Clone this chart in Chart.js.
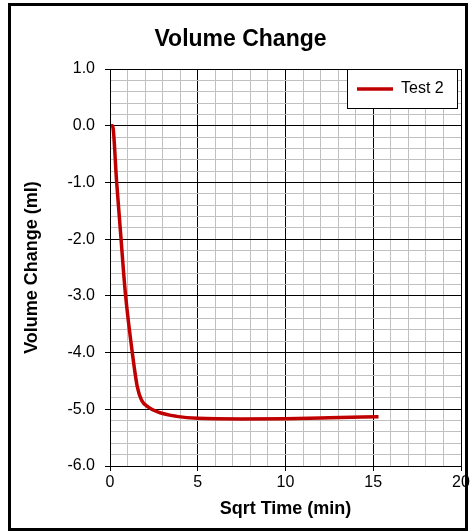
<!DOCTYPE html>
<html>
<head>
<meta charset="utf-8">
<script src="https://cdn.jsdelivr.net/npm/chart.js@4/dist/chart.umd.min.js"></script>
<style>
  html, body { margin: 0; padding: 0; background: #fff; }
  #wrap { width: 472px; height: 531px; }
  canvas { display: block; }
</style>
</head>
<body>
<div id="wrap"><canvas id="c" width="472" height="531"></canvas></div>
<script>
// ---- data ----
const chartTitle = 'Volume Change';
const xAxisTitle = 'Sqrt Time (min)';
const yAxisTitle = 'Volume Change (ml)';
const seriesName = 'Test 2';
const sqrtTime     = [0.06, 0.14, 0.38, 0.63, 0.76, 0.89, 1.27, 1.56, 1.80, 2.18, 2.75, 3.80, 5.00, 7.50, 10.00, 12.50, 15.30];
const volumeChange = [0.00, 0.00, -1.00, -2.00, -2.53, -3.00, -4.00, -4.61, -4.84, -4.96, -5.05, -5.125, -5.16, -5.17, -5.165, -5.15, -5.13];
const xMin = 0, xMax = 20, xStep = 1, xMajor = 5;
const yMin = -6, yMax = 1, yStep = 0.2;

const points = sqrtTime.map((x, i) => ({ x: x, y: volumeChange[i] }));

Chart.defaults.font.family = "'Liberation Sans', Arial, sans-serif";
Chart.defaults.color = '#000';

const isInt = v => Math.abs(v - Math.round(v)) < 1e-6;
const isMajorX = v => isInt(v / xMajor);

const framePlugin = {
  id: 'frame',
  beforeDraw(chart) {
    const ctx = chart.ctx;
    ctx.save();
    ctx.fillStyle = '#fff';
    ctx.fillRect(0, 0, chart.width, chart.height);
    ctx.restore();
  },
  afterLayout(chart) {
    const lg = chart.legend;
    if (!lg) return;
    lg.left = 347; lg.right = 458; lg.width = 111;
    lg.top = 71; lg.bottom = 109; lg.height = 38;
  },
  afterDatasetsDraw(chart) {
    const ctx = chart.ctx;
    ctx.save();
    ctx.fillStyle = '#fff';
    ctx.fillRect(347, 69, 111, 40);
    ctx.strokeStyle = '#000';
    ctx.lineWidth = 1;
    ctx.strokeRect(347.5, 69.5, 110, 39);
    ctx.restore();
    chart.legend.draw();
  },
  afterDraw(chart) {
    const ctx = chart.ctx;
    ctx.save();
    ctx.strokeStyle = '#000';
    ctx.lineWidth = 3;
    ctx.strokeRect(9.5, 4.5, 457, 525);
    ctx.restore();
  }
};

new Chart(document.getElementById('c'), {
  type: 'line',
  data: {
    datasets: [{
      label: seriesName,
      data: points,
      borderColor: '#c00000',
      backgroundColor: '#c00000',
      borderWidth: 3.5,
      pointRadius: 0,
      pointHoverRadius: 0,
      fill: false,
      cubicInterpolationMode: 'monotone'
    }]
  },
  options: {
    responsive: false,
    animation: false,
    events: [],
    layout: { padding: { left: 20, right: 11, top: 0, bottom: 0 } },
    plugins: {
      title: {
        display: true,
        text: chartTitle,
        font: { size: 23, weight: 'bold' },
        color: '#000',
        padding: { top: 26, bottom: 15.4 }
      },
      legend: {
        display: true,
        position: 'chartArea',
        align: 'start',
        labels: {
          usePointStyle: true,
          pointStyle: 'line',
          pointStyleWidth: 36,
          padding: 10,
          font: { size: 16 },
          color: '#000'
        }
      },
      tooltip: { enabled: false }
    },
    scales: {
      x: {
        type: 'linear',
        min: xMin, max: xMax,
        afterFit(scale) { scale.height = 65; },
        ticks: {
          stepSize: xStep,
          autoSkip: false,
          maxRotation: 0,
          padding: 2,
          font: { size: 16 },
          color: '#000',
          callback: v => isMajorX(v) ? String(Math.round(v)) : ''
        },
        grid: {
          color: c => (c.tick && isMajorX(c.tick.value)) ? '#000' : '#c0c0c0',
          tickColor: c => (c.tick && isMajorX(c.tick.value)) ? '#000' : 'rgba(0,0,0,0)',
          tickLength: 5,
          lineWidth: 1
        },
        border: { display: true, color: '#000', width: 1 },
        title: {
          display: true,
          text: xAxisTitle,
          font: { size: 18, weight: 'bold' },
          color: '#000',
          padding: { top: 0, bottom: 11 }
        }
      },
      y: {
        type: 'linear',
        min: yMin, max: yMax,
        afterFit(scale) { scale.width = 90; },
        ticks: {
          stepSize: yStep,
          autoSkip: false,
          padding: 10,
          font: { size: 16 },
          color: '#000',
          callback: v => isInt(v) ? Number(v).toFixed(1) : ''
        },
        grid: {
          color: c => (c.tick && isInt(c.tick.value)) ? '#000' : '#c0c0c0',
          tickColor: c => (c.tick && isInt(c.tick.value)) ? '#000' : 'rgba(0,0,0,0)',
          tickLength: 5,
          lineWidth: 1
        },
        border: { display: true, color: '#000', width: 1 },
        title: {
          display: true,
          text: yAxisTitle,
          font: { size: 18, weight: 'bold' },
          color: '#000',
          padding: { top: 1, bottom: 0 }
        }
      }
    }
  },
  plugins: [framePlugin]
});
</script>
</body>
</html>
